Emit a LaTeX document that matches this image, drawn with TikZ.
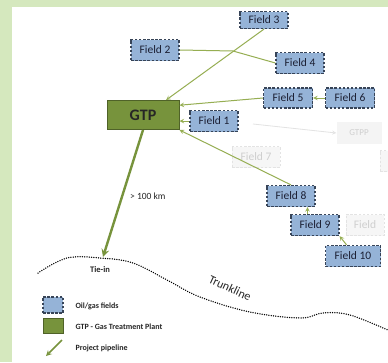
\documentclass[tikz,border=0pt]{standalone}
\usepackage{fontspec}
\setmainfont{Carlito}

\definecolor{framegreen}{RGB}{213,232,190}
\definecolor{fieldblue}{RGB}{149,179,215}
\definecolor{fieldline}{RGB}{55,68,88}
\definecolor{fieldtext}{RGB}{28,32,52}
\definecolor{gtpgreen}{RGB}{119,147,60}
\definecolor{gtpline}{RGB}{79,98,40}
\definecolor{pipegreen}{RGB}{150,174,82}

\begin{document}
\begin{tikzpicture}[
        x=1pt, y=-1pt,
        >=stealth,
        base/.style={align=center, inner sep=0pt, font=\fontsize{11.5}{12}\selectfont, text=fieldtext},
        field/.style={base, draw=fieldline, fill=fieldblue, line width=1.2pt, dash pattern=on 2.5pt off 1.6pt, minimum width=48pt, minimum height=20pt},
        faded/.style={base, draw=gray!22, fill=gray!7, text=gray!38, line width=1pt, dash pattern=on 2.5pt off 1.6pt, minimum width=48pt, minimum height=21pt},
        gtpbox/.style={base, draw=gtpline, fill=gtpgreen, line width=1pt, font=\fontsize{16}{18}\selectfont\bfseries, text=black!85, minimum width=72pt, minimum height=29pt},
        pipe/.style={->, draw=pipegreen, line width=1pt},
        bigpipe/.style={->, draw=gtpgreen, line width=2.4pt},
        trunk/.style={line width=1.5pt, dash pattern=on 0pt off 2.3pt, line cap=round},
        leg/.style={font=\fontsize{8}{9}\selectfont\bfseries, anchor=west, text=black!85}
    ]
        \useasboundingbox (0,0) rectangle (388,362);
        \fill[framegreen] (0,0) rectangle (388,362);
        \fill[white] (12,7) rectangle (388,362);
        \clip (12,7) rectangle (388,362);

        % faded (not in project)
        \node[base, fill=gray!9, text=gray!38, minimum width=45pt, minimum height=22pt, font=\fontsize{9}{10}\selectfont] (gtpp) at (359,133) {GTPP};
        \node[faded] (field7) at (256,157) {Field 7};
        \node[faded] (fieldr) at (404,161) {};
        \node[faded, minimum width=38pt] (fieldx) at (365,225) {Field};

        % fields and plant
        \node[gtpbox] (gtp) at (143,115) {GTP};
        \node[field, minimum height=17pt] (field3) at (264,20) {Field 3};
        \node[field, minimum height=21pt] (field2) at (155,50) {Field 2};
        \node[field, minimum height=21pt] (field4) at (300,63) {Field 4};
        \node[field, minimum width=49pt] (field5) at (288,98) {Field 5};
        \node[field, minimum width=49pt] (field6) at (350,98) {Field 6};
        \node[field, minimum height=21pt] (field1) at (214,121) {Field 1};
        \node[field, minimum height=21pt] (field8) at (291,196) {Field 8};
        \node[field, minimum height=21pt] (field9) at (315,225) {Field 9};
        \node[field, minimum width=55pt, minimum height=21pt] (field10) at (353,256) {Field 10};

        \coordinate (bend) at (233,51);
        \coordinate (fadestart) at (253,124);
        \coordinate (tiein) at (103,257);

        % pipelines
        \draw[->, draw=gray!22, line width=0.8pt] (fadestart) -- (gtpp.west);
        \draw[pipe] (field3.south) -- (gtp.33);
        \draw[pipegreen, line width=1pt] (field2.east) -- (bend) -- (field4.west);
        \draw[pipe] (field5.west) -- (gtp.15);
        \draw[pipe] (field6.west) -- (field5.east);
        \draw[pipe] (field1.west) -- (field1.west -| gtp.east);
        \draw[pipe] (field8.north) -- (gtp.south east);
        \draw[pipe] (field9.124) -- (field9.124 |- field8.south);
        \draw[pipe] (field10.120) -- (field9.south east);
        \draw[bigpipe] (gtp.south) -- (tiein);
        \node[base, anchor=west, font=\fontsize{9.5}{10}\selectfont, text=black!85] (dist) at (130,196) {> 100 km};

        % trunkline
        \draw[trunk] plot[smooth, tension=0.6] coordinates {(38,273) (67,258) (100,258) (133,263) (167,280) (200,297) (250,312) (300,318) (323,313) (350,315) (390,331)};
        \node[font=\fontsize{8.5}{9}\selectfont\bfseries, text=black!85] (tieinlabel) at (100,270) {Tie-in};
        \node[font=\fontsize{12}{13}\selectfont, text=black!85, rotate=-25] (trunklabel) at (230,288) {Trunkline};

        % legend
        \node[field, minimum width=20pt, minimum height=16pt] (legfield) at (53,305) {};
        \node[gtpbox, minimum width=20pt, minimum height=15pt] (leggtp) at (53,325.5) {};
        \coordinate (legtail) at (62,340);
        \coordinate (leghead) at (46,356);
        \draw[bigpipe, line width=1.5pt] (legtail) -- (leghead);
        \node[leg] at (72,306) {Oil/gas fields};
        \node[leg] at (72,327) {GTP - Gas Treatment Plant};
        \node[leg] at (72,348) {Project pipeline};
    \end{tikzpicture}
\end{document}
